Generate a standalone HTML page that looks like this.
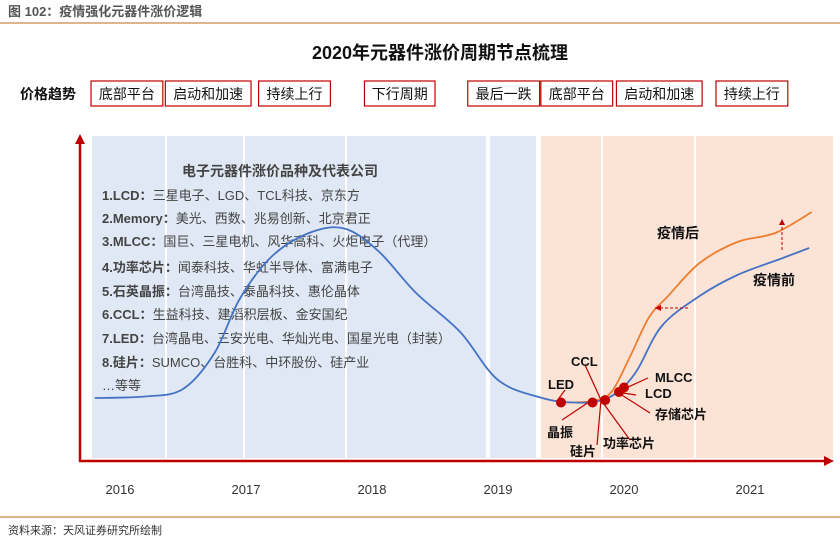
<!DOCTYPE html>
<html><head><meta charset="utf-8"><style>
body{margin:0;background:#fff;font-family:"Liberation Sans","Noto Sans CJK SC",sans-serif;}
svg text{font-family:"Liberation Sans","Noto Sans CJK SC",sans-serif;}
</style></head><body>
<svg id="c" width="840" height="543" viewBox="0 0 840 543">
<text x="8" y="16" font-size="13" font-weight="bold" fill="#555">图 102：疫情强化元器件涨价逻辑</text>
<line x1="0" y1="23" x2="840" y2="23" stroke="#c8894a" stroke-width="1.2"/>
<text x="440" y="59" font-size="18" font-weight="bold" text-anchor="middle" fill="#111">2020年元器件涨价周期节点梳理</text>
<g>
<rect x="92" y="136" width="73" height="322" fill="#dfe8f4"/>
<rect x="167" y="136" width="76" height="322" fill="#dfe8f4"/>
<rect x="245" y="136" width="100" height="322" fill="#dfe8f4"/>
<rect x="347" y="136" width="139" height="322" fill="#dfe8f4"/>
<rect x="490" y="136" width="46" height="322" fill="#dfe8f4"/>
<rect x="541" y="136" width="60" height="322" fill="#fbe4d6"/>
<rect x="603" y="136" width="91" height="322" fill="#fbe4d6"/>
<rect x="696" y="136" width="137" height="322" fill="#fbe4d6"/>
</g>
<text x="20" y="99" font-size="14" font-weight="bold" fill="#111">价格趋势</text>
<g id="phases"></g>
<text x="280" y="176" font-size="14" font-weight="bold" fill="#444" text-anchor="middle">电子元器件涨价品种及代表公司</text>
<g font-size="13" fill="#444">
<text x="102" y="200"><tspan font-weight="bold">1.LCD：</tspan>三星电子、LGD、TCL科技、京东方</text>
<text x="102" y="223"><tspan font-weight="bold">2.Memory：</tspan>美光、西数、兆易创新、北京君正</text>
<text x="102" y="246"><tspan font-weight="bold">3.MLCC：</tspan>国巨、三星电机、风华高科、火炬电子（代理）</text>
<text x="102" y="272"><tspan font-weight="bold">4.功率芯片：</tspan>闻泰科技、华虹半导体、富满电子</text>
<text x="102" y="296"><tspan font-weight="bold">5.石英晶振：</tspan>台湾晶技、泰晶科技、惠伦晶体</text>
<text x="102" y="319"><tspan font-weight="bold">6.CCL：</tspan>生益科技、建滔积层板、金安国纪</text>
<text x="102" y="343"><tspan font-weight="bold">7.LED：</tspan>台湾晶电、三安光电、华灿光电、国星光电（封装）</text>
<text x="102" y="367"><tspan font-weight="bold">8.硅片：</tspan>SUMCO、台胜科、中环股份、硅产业</text>
<text x="102" y="390">…等等</text>
</g>
<g id="curves"></g>
<g stroke="#c00000" stroke-width="1.2">
<line x1="557" y1="401" x2="565" y2="390"/><line x1="589" y1="402" x2="562" y2="420"/>
<line x1="601" y1="400" x2="585" y2="365"/><line x1="601" y1="400" x2="597" y2="445"/>
<line x1="601" y1="400" x2="630" y2="440"/><line x1="617" y1="392" x2="648" y2="378"/>
<line x1="617" y1="392" x2="636" y2="395"/><line x1="617" y1="392" x2="650" y2="413"/>
</g>
<g font-size="13" font-weight="bold" fill="#111">
<text x="548" y="389">LED</text><text x="571" y="366">CCL</text><text x="547" y="437">晶振</text>
<text x="570" y="456">硅片</text><text x="603" y="448">功率芯片</text><text x="655" y="382">MLCC</text>
<text x="645" y="398">LCD</text><text x="655" y="419">存储芯片</text>
<text x="657" y="238" font-size="14">疫情后</text><text x="753" y="285" font-size="14">疫情前</text>
</g>
<line x1="655" y1="308" x2="690" y2="308" stroke="#c00000" stroke-dasharray="3,2"/>
<path d="M655 308 l6 -3 v6z" fill="#c00000"/>
<line x1="782" y1="250" x2="782" y2="222" stroke="#c00000" stroke-dasharray="3,2"/>
<path d="M782 219 l-3 6 h6z" fill="#c00000"/>
<g>
<line x1="80" y1="462" x2="80" y2="142" stroke="#c00000" stroke-width="2.5"/>
<path d="M80 134 l-5 10 h10z" fill="#c00000"/>
<line x1="79" y1="461" x2="826" y2="461" stroke="#c00000" stroke-width="2.5"/>
<path d="M834 461 l-10 -5 v10z" fill="#c00000"/>
</g>
<g id="xt"></g>
<line x1="0" y1="517" x2="840" y2="517" stroke="#c8894a" stroke-width="1.2"/>
<text x="8" y="534" font-size="11" fill="#333">资料来源：天风证券研究所绘制</text>
</svg>
<script>
const years=[2016,2017,2018,2019,2020,2021];
const phaseLabels=["底部平台","启动和加速","持续上行","下行周期","最后一跌","底部平台","启动和加速","持续上行"];
const phaseStart=[2015.77,2016.36,2017.10,2017.94,2018.76,2019.34,2019.94,2020.73];
const phaseEnd=[2016.34,2017.04,2017.67,2018.50,2019.33,2019.91,2020.62,2021.30];
const preX=[2015.8,2016.2,2016.5,2016.75,2016.95,2017.2,2017.5,2017.78,2018.05,2018.35,2018.7,2019.0,2019.35,2019.6,2019.8,2019.95,2020.1,2020.3,2020.6,2020.9,2021.25,2021.47];
const preY=[21,21.5,24,36,54,68,76,77.5,70,56,43,27,21,19.5,20,23,30,45,55,62,67.5,71];
const postX=[2019.55,2019.75,2019.9,2020.05,2020.2,2020.35,2020.6,2020.9,2021.2,2021.49];
const postY=[19.5,20,23,35,48,55,66,73,76,83];
const dotX=[2019.5,2019.75,2019.85,2019.96,2020.0];
const dotY=[19.5,19.5,20.3,23,24.5];
const xs=v=>120+(v-2016)*126;
const ys=v=>461-v*3;
const NS="http://www.w3.org/2000/svg";
const mk=(t,a,p)=>{const e=document.createElementNS(NS,t);for(const k in a)e.setAttribute(k,a[k]);p.appendChild(e);return e;};
const ph=document.getElementById('phases');
phaseLabels.forEach((l,i)=>{
 const g=mk('g',{},ph);
 
 
 const x1=xs(phaseStart[i]),x2=xs(phaseEnd[i]);
 mk('rect',{x:x1,y:81,width:x2-x1,height:25,fill:'#fff',stroke:'#c00000','stroke-width':1.2},g);
 const t=mk('text',{x:(x1+x2)/2,y:99,'font-size':14,'text-anchor':'middle',fill:'#111'},g);t.textContent=l;
});
const cv=document.getElementById('curves');
function line(X,Y,col,name){
 let d='';const P=X.map((x,i)=>[xs(x),ys(Y[i])]);
 d='M'+P[0];for(let i=0;i<P.length-1;i++){const p0=P[i-1]||P[i],p1=P[i],p2=P[i+1],p3=P[i+2]||p2;
 d+=` C${p1[0]+(p2[0]-p0[0])/6},${p1[1]+(p2[1]-p0[1])/6} ${p2[0]-(p3[0]-p1[0])/6},${p2[1]-(p3[1]-p1[1])/6} ${p2[0]},${p2[1]}`;}
 const e=mk('path',{d,fill:'none',stroke:col,'stroke-width':1.8},cv);
 
 
}
line(postX,postY,'#ed7d31','post-epidemic-curve');
line(preX,preY,'#4472c4','pre-epidemic-curve');
dotX.forEach((x,i)=>{const e=mk('circle',{cx:xs(x),cy:ys(dotY[i]),r:5,fill:'#c00000'},cv);
 
 });
const xt=document.getElementById('xt');
years.forEach(y=>{const t=mk('text',{x:xs(y),y:494,'font-size':13,'text-anchor':'middle',fill:'#333'},xt);t.textContent=y;
 
 });
</script>
</body></html>
